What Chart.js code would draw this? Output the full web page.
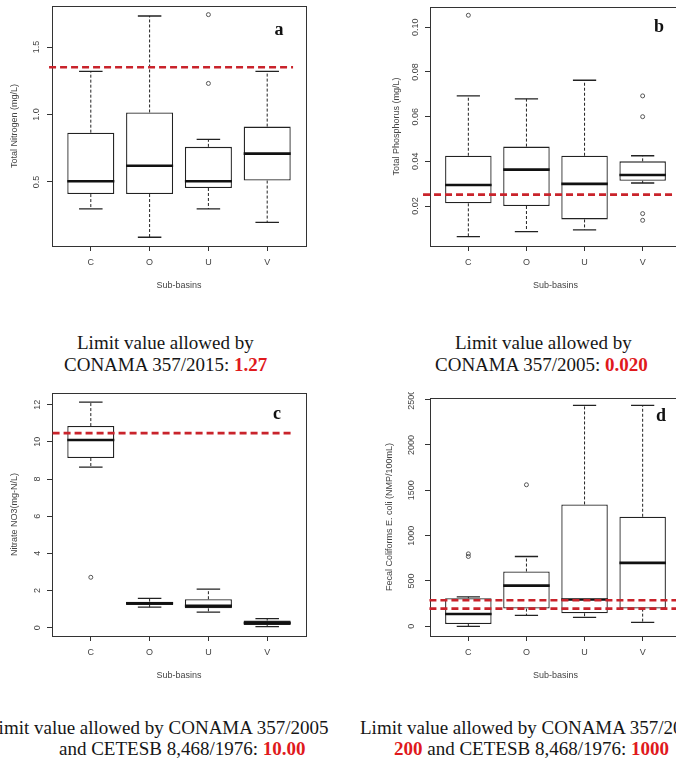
<!DOCTYPE html>
<html>
<head>
<meta charset="utf-8">
<script src="https://cdn.jsdelivr.net/npm/chart.js@4.4.1/dist/chart.umd.min.js"></script>
<style>
html, body { margin: 0; padding: 0; background: #fff; }
body { width: 676px; height: 762px; position: relative; overflow: hidden; }
canvas { position: absolute; }
.cap { position: absolute; font-family: "Liberation Serif", "Times New Roman", serif; font-size: 19px;
       line-height: 22px; color: #161616; white-space: nowrap; }
.cap b { color: #e0191c; }
.tag { position: absolute; font-family: "Liberation Serif", serif; font-weight: bold; font-size: 18px;
       color: #111; transform: translate(-50%, -50%); }
</style>
</head>
<body>
<canvas id="chartA"></canvas>
<canvas id="chartB"></canvas>
<canvas id="chartC"></canvas>
<canvas id="chartD"></canvas>

<div class="tag" style="left:279px;top:29px">a</div>
<div class="tag" style="left:659px;top:26px">b</div>
<div class="tag" style="left:277px;top:413px">c</div>
<div class="tag" style="left:661px;top:415px">d</div>

<div class="cap" style="left:77px;top:332px">Limit value allowed by</div>
<div class="cap" style="left:64px;top:354px">CONAMA 357/2015: <b>1.27</b></div>
<div class="cap" style="left:455px;top:332px">Limit value allowed by</div>
<div class="cap" style="left:435px;top:354px">CONAMA 357/2005: <b>0.020</b></div>
<div class="cap" style="left:-13px;top:717px">Limit value allowed by CONAMA 357/2005</div>
<div class="cap" style="left:59px;top:738px">and CETESB 8,468/1976: <b>10.00</b></div>
<div class="cap" style="left:360px;top:717px">Limit value allowed by CONAMA 357/2005:</div>
<div class="cap" style="left:394px;top:738px"><b>200</b> and CETESB 8,468/1976: <b>1000</b></div>

<script>
const basins = ["C", "O", "U", "V"];

// each box: [lower whisker, Q1, median, Q3, upper whisker], one per basin
// -------------------- a: total nitrogen --------------------
const nitrogenBoxes = [
    [0.30, 0.41, 0.505, 0.865, 1.32],
    [0.09, 0.41, 0.62, 1.015, 1.73],
    [0.30, 0.455, 0.505, 0.76, 0.815],
    [0.20, 0.51, 0.71, 0.91, 1.32]
];
const nitrogenOutliers = [[], [], [1.74, 1.23], []];
const nitrogenLimits = [1.35];
const nitrogenTicks = ["0.5", "1.0", "1.5"];

// -------------------- b: total phosphorus --------------------
const phosphorusBoxes = [
    [0.0063, 0.0212, 0.0294, 0.0425, 0.0693],
    [0.0085, 0.0200, 0.0363, 0.0466, 0.0680],
    [0.0093, 0.0140, 0.0299, 0.0425, 0.0763],
    [0.0303, 0.0313, 0.0339, 0.0400, 0.0425]
];
const phosphorusOutliers = [[0.1054], [], [], [0.0693, 0.0600, 0.0166, 0.0136]];
const phosphorusLimits = [0.0251];
const phosphorusTicks = ["0.02", "0.04", "0.06", "0.08", "0.10"];

// -------------------- c: nitrate --------------------
const nitrateBoxes = [
    [8.64, 9.13, 10.1, 10.85, 12.14],
    [1.10, 1.22, 1.31, 1.40, 1.58],
    [0.83, 1.04, 1.17, 1.53, 2.07],
    [0.05, 0.14, 0.25, 0.38, 0.48]
];
const nitrateOutliers = [[2.71], [], [], []];
const nitrateLimits = [10.47];
const nitrateTicks = ["0", "2", "4", "6", "8", "10", "12"];

// -------------------- d: fecal coliforms --------------------
const coliformBoxes = [
    [0, 26, 136, 309, 324],
    [121, 195, 449, 604, 770],
    [99, 144, 295, 1344, 2437],
    [44, 195, 700, 1208, 2437]
];
const coliformOutliers = [[799, 770], [1561], [], []];
const coliformLimits = [195, 287];
const coliformTicks = ["0", "500", "1000", "1500", "2000", "2500"];


// -------------------- LAYOUT --------------------
const AXIS_W = 52;
const PAD_T = 6;
const PAD_R = 24;
const XAXIS_H = 54;
const FONT = "Liberation Sans, Arial, sans-serif";

const panels = [
    { id: "chartA", boxes: nitrogenBoxes, outliers: nitrogenOutliers, limits: nitrogenLimits,
      ticks: nitrogenTicks, yTitle: "Total Nitrogen (mg/L)", yMin: 0.025, yMax: 1.804,
      limitSpan: [0.29, 4.44], left: 0, top: 0, plotW: 254, plotH: 240, tickOff: 15, titleOff: 37 },
    { id: "chartB", boxes: phosphorusBoxes, outliers: phosphorusOutliers, limits: phosphorusLimits,
      ticks: phosphorusTicks, yTitle: "Total Phosphorus (mg/L)", yMin: 0.0021, yMax: 0.1091,
      limitSpan: [0.22, 4.66], left: 378, top: 1, plotW: 251, plotH: 239, tickOff: 14, titleOff: 33 },
    { id: "chartC", boxes: nitrateBoxes, outliers: nitrateOutliers, limits: nitrateLimits,
      ticks: nitrateTicks, yTitle: "Nitrate NO3(mg-N/L)", yMin: -0.45, yMax: 12.63,
      limitSpan: [0.35, 4.44], left: 0, top: 387, plotW: 254, plotH: 243, tickOff: 14, titleOff: 37 },
    { id: "chartD", boxes: coliformBoxes, outliers: coliformOutliers, limits: coliformLimits,
      ticks: coliformTicks, yTitle: "Fecal Coliforms E. coli (NMP/100mL)", yMin: -107, yMax: 2518,
      limitSpan: [0.33, 4.66], left: 378, top: 392, plotW: 251, plotH: 238, tickOff: 18, titleOff: 40 }
];


// -------------------- BOX PLOT PLUGIN --------------------
const boxPlugin = {
    id: "boxPlugin",

    beforeDatasetsDraw(chart) {
        const { ctx, chartArea: a } = chart;
        ctx.save();
        ctx.strokeStyle = "#333";
        ctx.lineWidth = 1;
        ctx.strokeRect(Math.round(a.left) + 0.5, Math.round(a.top) + 0.5,
            Math.round(a.right - a.left), Math.round(a.bottom - a.top));
        ctx.restore();
    },

    // whiskers, caps and medians right after the boxes, under the limit lines
    afterDatasetDraw(chart, args) {
        if (args.index !== 0) return;
        const { ctx } = chart;
        const ys = chart.scales.y;
        const p = chart.options.plugins.boxPlugin.panel;

        args.meta.data.forEach((bar, i) => {
            const [lo, q1, med, q3, hi] = p.boxes[i];
            const x = bar.x;
            const half = bar.width / 2;
            const cap = bar.width / 4;

            ctx.save();
            ctx.strokeStyle = "#222";
            ctx.lineWidth = 1;
            ctx.setLineDash([3, 2]);
            ctx.beginPath();
            ctx.moveTo(x, ys.getPixelForValue(q3));
            ctx.lineTo(x, ys.getPixelForValue(hi));
            ctx.moveTo(x, ys.getPixelForValue(q1));
            ctx.lineTo(x, ys.getPixelForValue(lo));
            ctx.stroke();

            ctx.setLineDash([]);
            ctx.lineWidth = 1.3;
            ctx.beginPath();
            ctx.moveTo(x - cap, ys.getPixelForValue(hi));
            ctx.lineTo(x + cap, ys.getPixelForValue(hi));
            ctx.moveTo(x - cap, ys.getPixelForValue(lo));
            ctx.lineTo(x + cap, ys.getPixelForValue(lo));
            ctx.stroke();

            ctx.lineWidth = 2.6;
            ctx.strokeStyle = "#111";
            ctx.beginPath();
            ctx.moveTo(x - half, ys.getPixelForValue(med));
            ctx.lineTo(x + half, ys.getPixelForValue(med));
            ctx.stroke();
            ctx.restore();
        });
    },

    afterDraw(chart) {
        const { ctx, chartArea: a } = chart;
        const ys = chart.scales.y;
        const p = chart.options.plugins.boxPlugin.panel;

        ctx.save();
        ctx.fillStyle = "#444";
        ctx.font = "9px " + FONT;
        ctx.textAlign = "center";
        ctx.textBaseline = "middle";

        p.ticks.forEach(label => {
            ctx.save();
            ctx.translate(a.left - p.tickOff, ys.getPixelForValue(Number(label)));
            ctx.rotate(-Math.PI / 2);
            ctx.fillText(label, 0, 0);
            ctx.restore();
        });

        ctx.save();
        ctx.translate(a.left - p.titleOff, (a.top + a.bottom) / 2);
        ctx.rotate(-Math.PI / 2);
        ctx.fillText(p.yTitle, 0, 0);
        ctx.restore();

        ctx.fillText("Sub-basins", (a.left + a.right) / 2, a.bottom + 40);
        ctx.restore();
    }
};


// -------------------- BUILD CHART --------------------
function buildPanel(p) {
    const el = document.getElementById(p.id);
    el.width = AXIS_W + p.plotW + PAD_R;
    el.height = PAD_T + p.plotH + XAXIS_H;
    el.style.left = p.left + "px";
    el.style.top = p.top + "px";

    const datasets = [{
        type: "bar",
        data: p.boxes.map((b, i) => ({ x: i + 1, y: [b[1], b[3]] })),
        backgroundColor: "#ffffff",
        borderColor: "#222",
        borderWidth: 1.3,
        borderSkipped: false,
        barPercentage: 1,
        categoryPercentage: 0.8,
        order: 3
    }, {
        type: "scatter",
        data: p.outliers.flatMap((list, i) => list.map(v => ({ x: i + 1, y: v }))),
        pointRadius: 2,
        borderWidth: 1,
        borderColor: "#555",
        backgroundColor: "rgba(0,0,0,0)",
        order: 2
    }];

    p.limits.forEach(v => {
        datasets.push({
            type: "line",
            data: p.limitSpan.map(x => ({ x: x, y: v })),
            borderColor: "#c9232b",
            borderWidth: 2.6,
            borderDash: [7, 4],
            pointRadius: 0,
            clip: false,
            order: 1
        });
    });

    return new Chart(el, {
        type: "bar",
        data: { datasets: datasets },
        plugins: [boxPlugin],
        options: {
            responsive: false,
            animation: false,
            layout: { padding: { top: PAD_T, right: PAD_R, left: 0, bottom: 0 } },
            plugins: {
                legend: { display: false },
                tooltip: { enabled: false },
                boxPlugin: { panel: p }
            },
            scales: {
                x: {
                    type: "linear",
                    min: 0.34,
                    max: 4.66,
                    offset: false,
                    afterBuildTicks: s => { s.ticks = basins.map((b, i) => ({ value: i + 1 })); },
                    afterFit: s => { s.height = XAXIS_H; },
                    ticks: {
                        callback: v => basins[v - 1],
                        autoSkip: false,
                        maxRotation: 0,
                        padding: 6,
                        color: "#444",
                        font: { family: FONT, size: 9 }
                    },
                    grid: { drawOnChartArea: false, offset: false, tickLength: 5, color: "#333" },
                    border: { display: false }
                },
                y: {
                    min: p.yMin,
                    max: p.yMax,
                    afterBuildTicks: s => { s.ticks = p.ticks.map(t => ({ value: Number(t) })); },
                    afterFit: s => { s.width = AXIS_W; },
                    ticks: { display: false },
                    grid: { drawOnChartArea: false, tickLength: 5, color: "#333" },
                    border: { display: false }
                }
            }
        }
    });
}

panels.forEach(buildPanel);
</script>
</body>
</html>
